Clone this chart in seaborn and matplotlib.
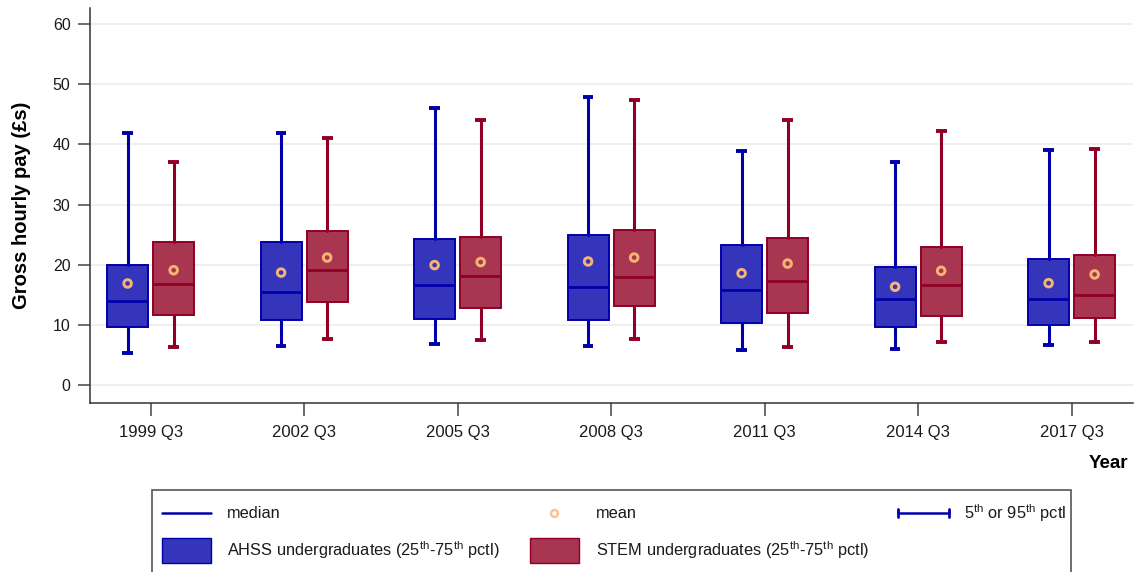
import matplotlib
matplotlib.use("Agg")
import matplotlib.pyplot as plt
from matplotlib.lines import Line2D
from matplotlib.patches import Rectangle
import numpy as np
import pandas as pd
import seaborn as sns

# Survey quarters
periods = ["1999 Q3", "2002 Q3", "2005 Q3", "2008 Q3", "2011 Q3", "2014 Q3", "2017 Q3"]

# AHSS undergraduates: gross hourly pay (£)
ahss_p5 = [5.3, 6.6, 6.85, 6.6, 5.8, 6.1, 6.7]
ahss_p25 = [9.7, 10.8, 11.0, 10.8, 10.4, 9.6, 9.95]
ahss_median = [14.0, 15.5, 16.6, 16.35, 15.8, 14.4, 14.3]
ahss_p75 = [20.0, 23.8, 24.2, 25.0, 23.2, 19.6, 20.9]
ahss_p95 = [41.8, 41.8, 46.0, 47.8, 38.85, 37.1, 39.0]
ahss_mean = [16.9, 18.7, 19.95, 20.55, 18.6, 16.35, 16.95]

# STEM undergraduates: gross hourly pay (£)
stem_p5 = [6.4, 7.7, 7.45, 7.7, 6.4, 7.2, 7.2]
stem_p25 = [11.7, 13.9, 12.8, 13.2, 12.0, 11.5, 11.15]
stem_median = [16.85, 19.2, 18.2, 18.0, 17.35, 16.6, 15.0]
stem_p75 = [23.8, 25.6, 24.6, 25.75, 24.4, 22.9, 21.7]
stem_p95 = [37.1, 41.0, 44.0, 47.4, 44.1, 42.2, 39.2]
stem_mean = [19.1, 21.2, 20.45, 21.2, 20.2, 19.0, 18.4]

sns.set_theme(style="white")
plt.rcParams["font.family"] = ["Liberation Sans", "DejaVu Sans"]
plt.rcParams["mathtext.fontset"] = "custom"
plt.rcParams["mathtext.rm"] = "Liberation Sans"
plt.rcParams["mathtext.it"] = "Liberation Sans:italic"
plt.rcParams["mathtext.bf"] = "Liberation Sans:bold"

BLUE_FILL, BLUE_EDGE = "#3535BB", "#0000AA"
RED_FILL, RED_EDGE = "#A83650", "#900026"
MEAN_COL = "#F6B472"
INK = "#1A1A1A"

W, H = 1137, 572
fig = plt.figure(figsize=(W / 100, H / 100), dpi=100)
fig.patch.set_facecolor("white")


def fx(px):
    return px / W


def fy(py):
    return 1 - py / H


ax = fig.add_axes([fx(90), fy(403), fx(1133) - fx(90), fy(8) - fy(403)])

offset = 0.15
width = 0.267
idx = np.arange(len(periods))


def stats_for(p5, p25, med, p75, p95, mean):
    return [
        dict(whislo=a, q1=b, med=c, q3=d, whishi=e, mean=f, fliers=[])
        for a, b, c, d, e, f in zip(p5, p25, med, p75, p95, mean)
    ]


groups = [
    ("AHSS", -offset, BLUE_FILL, BLUE_EDGE,
     stats_for(ahss_p5, ahss_p25, ahss_median, ahss_p75, ahss_p95, ahss_mean)),
    ("STEM", offset, RED_FILL, RED_EDGE,
     stats_for(stem_p5, stem_p25, stem_median, stem_p75, stem_p95, stem_mean)),
]

for name, off, fill, edge, st in groups:
    ax.bxp(
        st,
        positions=idx + off,
        widths=width,
        capwidths=0.07,
        patch_artist=True,
        showfliers=False,
        showmeans=False,
        boxprops=dict(facecolor=fill, edgecolor=edge, linewidth=1.4),
        whiskerprops=dict(color=edge, linewidth=2.2),
        capprops=dict(color=edge, linewidth=2.8, solid_capstyle="butt"),
        medianprops=dict(color=edge, linewidth=2.0),
        manage_ticks=False,
        zorder=3,
    )

# Means as hollow circles on top of the boxes
means = pd.DataFrame({
    "x": np.concatenate([idx - offset, idx + offset]),
    "mean": ahss_mean + stem_mean,
    "group": ["AHSS"] * len(periods) + ["STEM"] * len(periods),
})
sns.scatterplot(
    data=means, x="x", y="mean", ax=ax, marker="o", s=30,
    facecolors="none", edgecolor=MEAN_COL, linewidth=2.1,
    legend=False, zorder=5,
)

ax.set_xlim(-0.395, 6.40)
ax.set_ylim(-2.93, 62.6)
ax.set_xticks(idx)
ax.set_xticklabels(periods)
ax.set_yticks(np.arange(0, 61, 10))
ax.set_xlabel("")
ax.set_ylabel("")
ax.set_axisbelow(True)
ax.grid(axis="y", color="#ECECEC", linewidth=1.2)
ax.grid(axis="x", visible=False)
for side in ("top", "right"):
    ax.spines[side].set_visible(False)
for side in ("left", "bottom"):
    ax.spines[side].set_color("#333333")
    ax.spines[side].set_linewidth(1.1)
ax.tick_params(axis="both", direction="out", length=9, width=1.1,
               color="#444444", labelcolor=INK, left=True, bottom=True)
ax.tick_params(axis="y", labelsize=11.5, pad=5)
ax.tick_params(axis="x", labelsize=12, pad=7)

fig.text(fx(22), fy(205), "Gross hourly pay (£s)", rotation=90, ha="center",
         va="center", fontsize=14.5, fontweight="bold", color="black")
fig.text(fx(1128), fy(464), "Year", ha="right", va="center", fontsize=13.5,
         fontweight="bold", color="black")

# Legend panel
fig.patches.append(Rectangle((fx(152), fy(575)), fx(1071) - fx(152), fy(490) - fy(575),
                             transform=fig.transFigure, facecolor="white",
                             edgecolor="#555555", linewidth=1.2, zorder=1))

row1, row2 = 513, 550
fig.lines.append(Line2D([fx(162), fx(211)], [fy(row1), fy(row1)], transform=fig.transFigure,
                        color=BLUE_EDGE, linewidth=1.8))
fig.lines.append(Line2D([fx(554)], [fy(row1)], transform=fig.transFigure, marker="o",
                        markersize=5.0, markerfacecolor="none", markeredgecolor="#F8C496",
                        markeredgewidth=1.8, linestyle="none"))
fig.lines.append(Line2D([fx(898), fx(949)], [fy(row1), fy(row1)], transform=fig.transFigure,
                        color=BLUE_EDGE, linewidth=1.8))
for cx in (898, 949):
    fig.lines.append(Line2D([fx(cx), fx(cx)], [fy(row1 - 4), fy(row1 + 4)],
                            transform=fig.transFigure, color=BLUE_EDGE, linewidth=2.0))
fig.patches.append(Rectangle((fx(162), fy(563)), fx(211) - fx(162), fy(538) - fy(563),
                             transform=fig.transFigure, facecolor=BLUE_FILL,
                             edgecolor=BLUE_EDGE, linewidth=1.0, zorder=2))
fig.patches.append(Rectangle((fx(530), fy(563)), fx(579) - fx(530), fy(538) - fy(563),
                             transform=fig.transFigure, facecolor=RED_FILL,
                             edgecolor=RED_EDGE, linewidth=1.0, zorder=2))

sup = r"$^{\mathrm{th}}$"
leg_kw = dict(va="center", ha="left", fontsize=11.8, color=INK)
fig.text(fx(227), fy(row1), "median", **leg_kw)
fig.text(fx(596), fy(row1), "mean", **leg_kw)
fig.text(fx(964), fy(row1), f"5{sup} or 95{sup} pctl", **leg_kw)
fig.text(fx(227), fy(row2), f"AHSS undergraduates (25{sup}-75{sup} pctl)", **leg_kw)
fig.text(fx(596), fy(row2), f"STEM undergraduates (25{sup}-75{sup} pctl)", **leg_kw)

fig.savefig("out.png", dpi=100, facecolor="white")
